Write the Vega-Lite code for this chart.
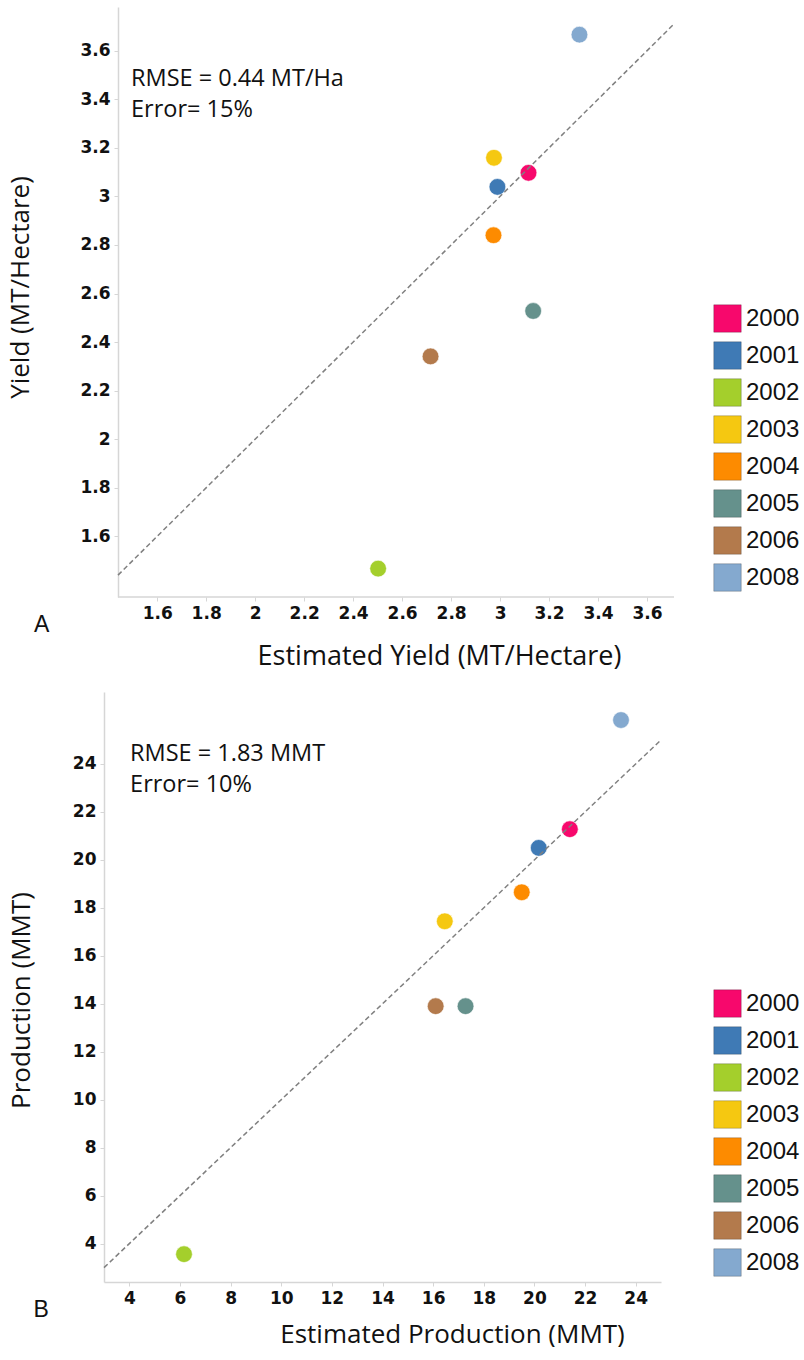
{
  "$schema": "https://vega.github.io/schema/vega-lite/v6.json",
  "background": "white",
  "padding": {"left": 7, "top": 7, "right": 0, "bottom": 0},
  "config": {
    "view": {"stroke": null},
    "axis": {
      "domainColor": "#d6d6d6", "domainWidth": 1.5, "tickColor": "#d6d6d6", "tickSize": 4, "grid": false,
      "labelFont": "DejaVu Sans", "labelFontWeight": "bold", "labelFontSize": 17, "labelColor": "#111111", "labelPadding": 4,
      "titleFont": "Open Sans", "titleFontSize": 26, "titleFontWeight": "normal", "titleColor": "#111111"
    },
    "legend": {
      "orient": "none", "title": null, "padding": 0, "symbolType": "square", "symbolSize": 756,
      "symbolStrokeColor": "rgba(0,0,0,0.22)", "symbolStrokeWidth": 1, "symbolOpacity": 1,
      "labelFont": "Liberation Sans", "labelFontSize": 24, "labelColor": "#111111", "labelOffset": 4, "rowPadding": 4
    }
  },
  "datasets": {
    "yield": [
      {"year": "2000", "estimated": 3.116, "actual": 3.097},
      {"year": "2001", "estimated": 2.989, "actual": 3.039},
      {"year": "2002", "estimated": 2.502, "actual": 1.467},
      {"year": "2003", "estimated": 2.975, "actual": 3.159},
      {"year": "2004", "estimated": 2.973, "actual": 2.84},
      {"year": "2005", "estimated": 3.135, "actual": 2.528},
      {"year": "2006", "estimated": 2.716, "actual": 2.341},
      {"year": "2008", "estimated": 3.324, "actual": 3.666}
    ],
    "yieldLine": [{"estimated": 1.44, "actual": 1.44}, {"estimated": 3.705, "actual": 3.705}],
    "prod": [
      {"year": "2000", "estimated": 21.4, "actual": 21.28},
      {"year": "2001", "estimated": 20.17, "actual": 20.5},
      {"year": "2002", "estimated": 6.16, "actual": 3.56},
      {"year": "2003", "estimated": 16.46, "actual": 17.44},
      {"year": "2004", "estimated": 19.5, "actual": 18.65},
      {"year": "2005", "estimated": 17.28, "actual": 13.9},
      {"year": "2006", "estimated": 16.1, "actual": 13.9},
      {"year": "2008", "estimated": 23.42, "actual": 25.83}
    ],
    "prodLine": [{"estimated": 3, "actual": 3}, {"estimated": 25, "actual": 25}]
  },
  "spacing": 23,
  "resolve": {"scale": {"color": "independent"}, "legend": {"color": "independent"}},
  "vconcat": [
    {
      "width": 570, "height": 590,
      "layer": [
        {
          "data": {"name": "yield"},
          "mark": {"type": "circle", "size": 280, "opacity": 1, "stroke": "white", "strokeWidth": 1, "strokeOpacity": 0.6},
          "encoding": {
            "x": {"field": "estimated", "type": "quantitative",
              "scale": {"domain": [1.3828, 3.71], "nice": false, "zero": false},
              "axis": {"title": "Estimated Yield (MT/Hectare)", "domain": false, "values": [1.6, 1.8, 2, 2.2, 2.4, 2.6, 2.8, 3, 3.2, 3.4, 3.6], "format": "~g", "titlePadding": 22, "titleX": 335, "titleAlign": "center", "titleFontSize": 27}},
            "y": {"field": "actual", "type": "quantitative",
              "scale": {"domain": [1.35, 3.78], "nice": false, "zero": false},
              "axis": {"title": "Yield (MT/Hectare)", "offset": -14, "values": [1.6, 1.8, 2, 2.2, 2.4, 2.6, 2.8, 3, 3.2, 3.4, 3.6], "format": "~g", "titlePadding": 46, "titleY": 280, "titleAlign": "center"}},
            "color": {"field": "year", "type": "nominal",
              "scale": {"domain": ["2000", "2001", "2002", "2003", "2004", "2005", "2006", "2008"],
                "range": ["#f7086c", "#3f7ab5", "#a4cf2c", "#f5c811", "#fd8b00", "#65918c", "#b37a4c", "#84a9cf"]},
              "legend": {"legendX": 609, "legendY": 297}}
          }
        },
        {
          "data": {"values": [{}]},
          "mark": {"type": "rule", "color": "#d6d6d6", "strokeWidth": 1.5},
          "encoding": {"x": {"datum": 1.44}, "x2": {"datum": 3.71}, "y": {"datum": 1.35}}
        },
        {
          "data": {"name": "yieldLine"},
          "mark": {"type": "line", "strokeDash": [5, 3], "color": "#808080", "strokeWidth": 1.5},
          "encoding": {
            "x": {"field": "estimated", "type": "quantitative"},
            "y": {"field": "actual", "type": "quantitative"}
          }
        },
        {
          "data": {"values": [{}]},
          "mark": {"type": "text", "align": "left", "baseline": "alphabetic", "font": "Open Sans", "fontSize": 23.5, "lineHeight": 31, "color": "#111111"},
          "encoding": {"x": {"datum": 1.493}, "y": {"datum": 3.454}, "text": {"value": ["RMSE = 0.44 MT/Ha", "Error= 15%"]}}
        },
        {
          "data": {"values": [{}]},
          "mark": {"type": "text", "align": "left", "baseline": "alphabetic", "font": "Liberation Sans", "fontSize": 23, "color": "#111111"},
          "encoding": {"x": {"datum": 1.097}, "y": {"datum": 1.204}, "text": {"value": "A"}}
        }
      ]
    },
    {
      "width": 557, "height": 590,
      "layer": [
        {
          "data": {"name": "prod"},
          "mark": {"type": "circle", "size": 280, "opacity": 1, "stroke": "white", "strokeWidth": 1, "strokeOpacity": 0.6},
          "encoding": {
            "x": {"field": "estimated", "type": "quantitative",
              "scale": {"domain": [3, 25], "nice": false, "zero": false},
              "axis": {"title": "Estimated Production (MMT)", "values": [4, 6, 8, 10, 12, 14, 16, 18, 20, 22, 24], "titlePadding": 15, "titleX": 348, "titleAlign": "center", "titleFontSize": 26}},
            "y": {"field": "actual", "type": "quantitative",
              "scale": {"domain": [2.4, 27], "nice": false, "zero": false},
              "axis": {"title": "Production (MMT)", "values": [4, 6, 8, 10, 12, 14, 16, 18, 20, 22, 24], "titlePadding": 38, "titleY": 308, "titleAlign": "center"}},
            "color": {"field": "year", "type": "nominal",
              "scale": {"domain": ["2000", "2001", "2002", "2003", "2004", "2005", "2006", "2008"],
                "range": ["#f7086c", "#3f7ab5", "#a4cf2c", "#f5c811", "#fd8b00", "#65918c", "#b37a4c", "#84a9cf"]},
              "legend": {"legendX": 609, "legendY": 297}}
          }
        },
        {
          "data": {"name": "prodLine"},
          "mark": {"type": "line", "strokeDash": [5, 3], "color": "#808080", "strokeWidth": 1.5},
          "encoding": {
            "x": {"field": "estimated", "type": "quantitative"},
            "y": {"field": "actual", "type": "quantitative"}
          }
        },
        {
          "data": {"values": [{}]},
          "mark": {"type": "text", "align": "left", "baseline": "alphabetic", "font": "Open Sans", "fontSize": 23.5, "lineHeight": 31, "color": "#111111"},
          "encoding": {"x": {"datum": 4.03}, "y": {"datum": 24.14}, "text": {"value": ["RMSE = 1.83 MMT", "Error= 10%"]}}
        },
        {
          "data": {"values": [{}]},
          "mark": {"type": "text", "align": "left", "baseline": "alphabetic", "font": "Liberation Sans", "fontSize": 23, "color": "#111111"},
          "encoding": {"x": {"datum": 0.22}, "y": {"datum": 0.942}, "text": {"value": "B"}}
        }
      ]
    }
  ]
}
